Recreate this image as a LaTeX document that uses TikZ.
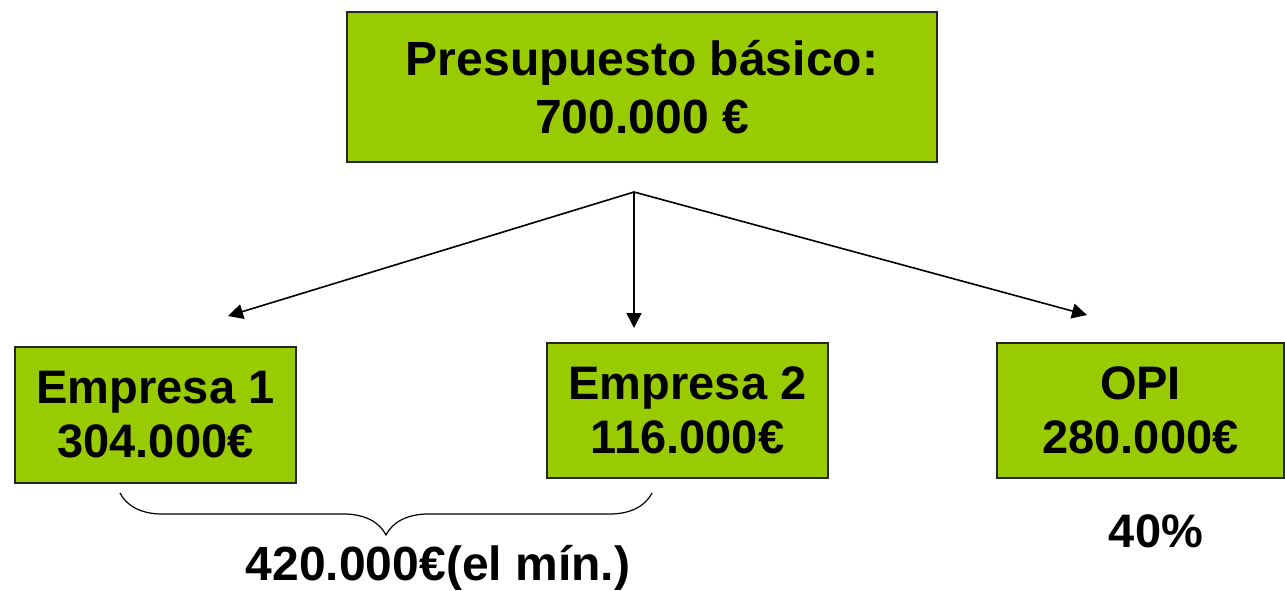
\documentclass[tikz,border=0pt]{standalone}
\usepackage{fontspec}
\setmainfont{Liberation Sans}
\usetikzlibrary{arrows.meta}
\usetikzlibrary{decorations.pathreplacing}
\definecolor{budgetgreen}{HTML}{99CC00}
\tikzstyle{budget_box}=[rectangle, fill=budgetgreen, draw=black!85, line width=1.3pt, inner sep=0pt, align=center, budget_font]
\tikzstyle{budget_font}=[font=\bfseries\fontsize{47}{54}\selectfont]
\tikzstyle{split_arrow}=[line width=1.6pt, -{Triangle[width=15pt,length=15pt]}]

\begin{document}
\begin{tikzpicture}[x=1pt, y=-1pt]
\useasboundingbox (0,0) rectangle (1285,590);
\node[budget_box, minimum width=590pt, minimum height=150pt, font=\bfseries\fontsize{48}{58}\selectfont] (bud) at (642,87){Presupuesto básico:\\ 700.000 €};
\node[budget_box, minimum width=281pt, minimum height=136pt] (firm1) at (155.5,415){Empresa 1\\ 304.000€};
\node[budget_box, minimum width=281pt, minimum height=135pt] (firm2) at (687.5,410.5){Empresa 2\\ 116.000€};
\node[budget_box, minimum width=287pt, minimum height=135pt] (opi) at (1140.5,410.5){OPI\\ 280.000€};
\coordinate (fork) at (634,192);
\coordinate (tip1) at (228,316);
\coordinate (tip2) at (634,328);
\coordinate (tip3) at (1087,315);
\draw[split_arrow](fork) -- (tip1);
\draw[split_arrow](fork) -- (tip2);
\draw[split_arrow](fork) -- (tip3);
\coordinate (brace_l) at (120,493);
\coordinate (brace_r) at (652,493);
\draw[line width=1.2pt, decorate, decoration={brace, mirror, amplitude=42pt}](brace_l) -- (brace_r);
\node[font=\bfseries\fontsize{48}{54}\selectfont, inner sep=0pt, anchor=base] (sum) at (438,580){420.000€(el mín.)};
\node[budget_font, inner sep=0pt, anchor=base] (share) at (1156,547){40\%};
\end{tikzpicture}
\end{document}
